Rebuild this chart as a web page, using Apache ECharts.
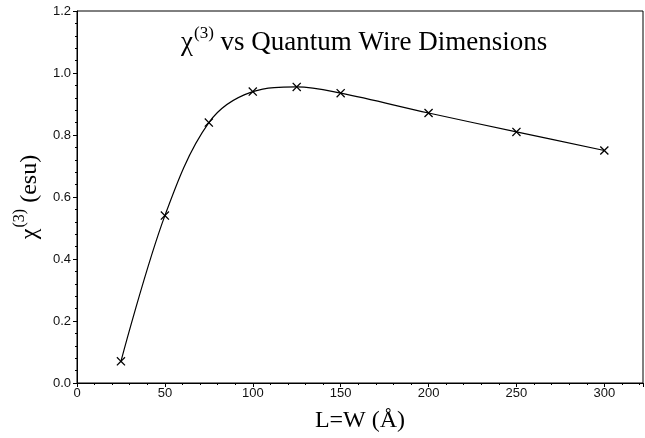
<!DOCTYPE html>
<html>
<head>
<meta charset="utf-8">
<script src="https://cdn.jsdelivr.net/npm/echarts@6/dist/echarts.min.js"></script>
<style>
  html, body { margin: 0; padding: 0; background: #fff; }
  #mychart { width: 645px; height: 438px; }
</style>
</head>
<body>
<div id="mychart"></div>
<script>
// wire size L=W (Å)
var sizes = [25, 50, 75, 100, 125, 150, 200, 250, 300];
// chi(3) (esu)
var chi3 = [0.07, 0.54, 0.84, 0.94, 0.955, 0.935, 0.871, 0.81, 0.75];

var serif = "'Liberation Serif', 'DejaVu Serif', serif";
var sans = "'Liberation Sans', Arial, sans-serif";

// x-shaped marker
var cross = "path://M0,1L1,0L5,4L9,0L10,1L6,5L10,9L9,10L5,6L1,10L0,9L4,5Z";

var myChart = echarts.init(document.getElementById("mychart"));
var option = {
  animation: false,
  backgroundColor: "#fff",
  title: {
    text: "{a|χ}{s|(3)}{a| vs Quantum Wire Dimensions}",
    left: 176,
    top: 20,
    textStyle: {
      fontWeight: "normal",
      rich: {
        a: { fontFamily: serif, fontSize: 27, fontWeight: "normal", color: "#000", verticalAlign: "bottom" },
        s: { fontFamily: serif, fontSize: 17, fontWeight: "normal", color: "#000", verticalAlign: "top", padding: [0, 0, 14, 1] }
      }
    }
  },
  grid: {
    left: 77,
    right: 2,
    top: 11,
    bottom: 55,
    show: true,
    borderColor: "#000",
    borderWidth: 1
  },
  xAxis: {
    type: "value",
    min: 0,
    max: 322,
    interval: 50,
    name: "L=W (Å)",
    nameLocation: "middle",
    nameGap: 26,
    nameTextStyle: { fontFamily: serif, fontSize: 24, color: "#000" },
    axisLine: { lineStyle: { color: "#000", width: 1 } },
    axisTick: { length: 4, lineStyle: { color: "#000" } },
    minorTick: { show: true, splitNumber: 5, length: 2, lineStyle: { color: "#000" } },
    axisLabel: { fontFamily: sans, fontSize: 13, color: "#111", margin: 4, showMaxLabel: false },
    splitLine: { show: false }
  },
  yAxis: {
    type: "value",
    min: 0,
    max: 1.2,
    interval: 0.2,
    name: "{a|χ}{s|(3)}{a| (esu)}",
    nameLocation: "middle",
    nameRotate: 90,
    nameGap: 24,
    nameTextStyle: {
      rich: {
        a: { fontFamily: serif, fontSize: 24, color: "#000", verticalAlign: "bottom" },
        s: { fontFamily: serif, fontSize: 16, color: "#000", verticalAlign: "top", padding: [0, 0, 14, 1] }
      }
    },
    axisLine: { show: true, lineStyle: { color: "#000", width: 1 } },
    axisTick: { show: true, length: 4, lineStyle: { color: "#000" } },
    minorTick: { show: true, splitNumber: 5, length: 2, lineStyle: { color: "#000" } },
    axisLabel: {
      fontFamily: sans, fontSize: 13, color: "#111", margin: 6,
      formatter: function (v) { return v.toFixed(1); }
    },
    splitLine: { show: false }
  },
  series: [
    {
      type: "line",
      data: sizes.map(function (x, i) { return [x, chi3[i]]; }),
      smooth: 0.35,
      symbol: cross,
      symbolSize: 9,
      showAllSymbol: true,
      lineStyle: { color: "#000", width: 1.2 },
      itemStyle: { color: "#000" }
    }
  ]
};
myChart.setOption(option);
window.addEventListener("resize", function () {
  myChart.resize();
});
</script>
</body>
</html>
